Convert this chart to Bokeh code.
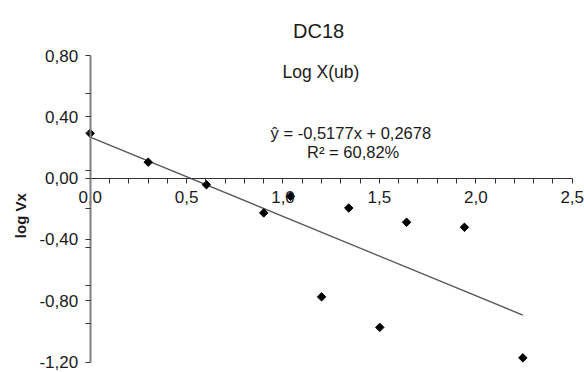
import math
from bokeh.plotting import figure
from bokeh.models import Range1d, FixedTicker, Label, LinearAxis
from bokeh.embed import file_html
from bokeh.resources import INLINE

# Observations: log X(ub) against log Vx
log_x = [0.0, 0.301, 0.603, 0.900, 1.039, 1.200, 1.341, 1.502, 1.641, 1.941, 2.244]
log_vx = [0.292, 0.104, -0.043, -0.227, -0.119, -0.775, -0.195, -0.974, -0.288, -0.321, -1.173]

# Fitted trend line
slope = -0.5177
intercept = 0.2678
r_squared_pct = "60,82%"

x_ticks = [0.0, 0.5, 1.0, 1.5, 2.0, 2.5]
x_tick_labels = ["0,0", "0,5", "1,0", "1,5", "2,0", "2,5"]
x_minor_ticks = [0.1, 0.2, 0.3, 0.4, 0.6, 0.7, 0.8, 0.9, 1.1, 1.2, 1.3, 1.4,
                 1.6, 1.7, 1.8, 1.9, 2.1, 2.2, 2.3, 2.4]
y_ticks = [-1.2, -0.8, -0.4, 0.0, 0.4, 0.8]
y_tick_labels = ["-1,20", "-0,80", "-0,40", "0,00", "0,40", "0,80"]
y_minor_ticks = [-0.95, -0.7, -0.45, -0.2, 0.05, 0.3, 0.55]

FONT = "Liberation Sans"
TEXT = "#1a1a1a"

# The frame fills the canvas; both axes are pinned at zero and bounded,
# so the margins stay inside the plotting area.
p = figure(width=584, height=372, output_backend="svg", toolbar_location=None,
           x_range=Range1d(-0.4652, 2.5638), y_range=Range1d(-1.2685, 1.1589),
           x_axis_type=None, y_axis_type=None, min_border=0)
p.outline_line_color = None
p.grid.visible = False
p.background_fill_color = "white"
p.border_fill_color = "white"


def style_axis(ax, line_color, line_width):
    ax.axis_line_color = line_color
    ax.axis_line_width = line_width
    ax.major_tick_line_color = "#333333"
    ax.minor_tick_line_color = "#333333"
    ax.major_tick_in = 0
    ax.major_tick_out = 5
    ax.minor_tick_in = 0
    ax.minor_tick_out = 5
    ax.major_label_text_font = FONT
    ax.major_label_text_font_size = "17px"
    ax.major_label_text_color = TEXT


yaxis = LinearAxis(fixed_location=0, bounds=(min(y_ticks), max(y_ticks)),
                   ticker=FixedTicker(ticks=y_ticks, minor_ticks=y_minor_ticks))
yaxis.major_label_overrides = {t: s for t, s in zip(y_ticks, y_tick_labels)}
style_axis(yaxis, "#808080", 2)
yaxis.major_label_standoff = 7
p.add_layout(yaxis, "left")

xaxis = LinearAxis(fixed_location=0, bounds=(min(x_ticks), max(x_ticks)),
                   ticker=FixedTicker(ticks=x_ticks, minor_ticks=x_minor_ticks))
xaxis.major_label_overrides = {t: s for t, s in zip(x_ticks, x_tick_labels)}
style_axis(xaxis, "#333333", 1)
xaxis.major_label_standoff = 8
p.add_layout(xaxis, "below")

# Trend line over the span of the data
x_fit = [min(log_x), max(log_x)]
y_fit = [intercept + slope * v for v in x_fit]
p.line(x_fit, y_fit, line_color="#555555", line_width=1.3)

p.scatter(log_x, log_vx, marker="square", size=6, angle=math.pi / 4,
          fill_color="black", line_color="black")


def add_text(x, y, text, size, style="normal", angle=0, baseline="alphabetic"):
    p.add_layout(Label(x=x, y=y, text=text, text_font=FONT,
                       text_font_size=size, text_font_style=style,
                       text_color=TEXT, text_align="center",
                       text_baseline=baseline, angle=angle))


add_text(1.185, 0.958, "DC18", "20px")
add_text(1.197, 0.69, "Log X(ub)", "17.5px")
add_text(1.364, 0.292, "ŷ = -0,5177x  + 0,2678", "16.5px")
add_text(1.364, 0.172, "R² = " + r_squared_pct, "16.5px")
add_text(-0.359, -0.245, "log Vx", "15px", style="bold", angle=math.pi / 2,
         baseline="middle")

open("out.html", "w").write(file_html(p, INLINE))
